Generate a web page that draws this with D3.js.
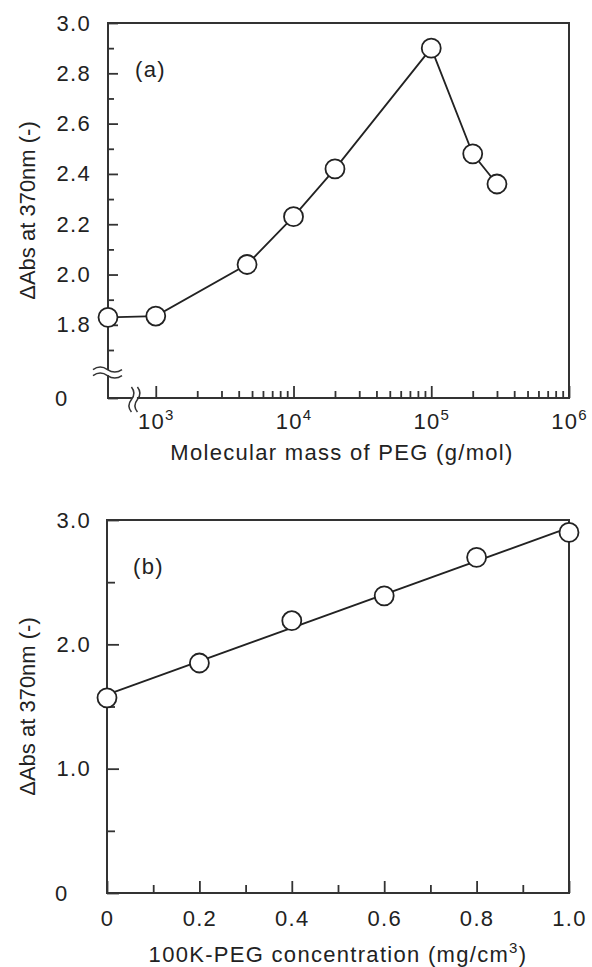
<!DOCTYPE html>
<html>
<head>
<meta charset="utf-8">
<script src="https://cdn.jsdelivr.net/npm/d3@7"></script>
<style>
body { margin: 0; background: #fff; }
svg { display: block; font-family: "Liberation Sans", Arial, sans-serif; }
</style>
</head>
<body>
<div id="chart"></div>
<script>
const width = 592
const height = 967

// (a) dAbs vs molecular mass of PEG
const pegMass = [450, 1000, 4600, 10000, 20000, 100000, 200000, 300000]
const pegAbs = [1.83, 1.835, 2.04, 2.23, 2.42, 2.90, 2.48, 2.36]
const massTicks = [1e3, 1e4, 1e5, 1e6]
const absTicksA = [0, 1.8, 2.0, 2.2, 2.4, 2.6, 2.8, 3.0]

// (b) dAbs vs 100K-PEG concentration
const pegConc = [0, 0.2, 0.4, 0.6, 0.8, 1.0]
const concAbs = [1.57, 1.85, 2.19, 2.39, 2.70, 2.90]
const concTicks = [0, 0.2, 0.4, 0.6, 0.8, 1.0]
const absTicksB = [0, 1.0, 2.0, 3.0]

const ink = "#333"
const fs = 22
const ls = 1.3 // the scan is a bit wide, letter-spacing makes up for it

const svg = d3.select("#chart")
    .append("svg")
    .attr("width", width)
    .attr("height", height)

function styleTicks(g) {
    g.selectAll(".tick line").attr("stroke", ink).attr("stroke-width", 1.8)
    g.selectAll(".tick text").attr("fill", "#222").attr("font-size", fs)
        .attr("letter-spacing", ls).attr("font-family", "Liberation Sans, Arial, sans-serif")
}

// ---------- panel (a) ----------
const a = { left: 108, right: 569, top: 23, bottom: 398 }
const xA = d3.scaleLog().domain([450, 1e6]).range([a.left, a.right])
// axis is broken between 0 and 1.7, so squeeze that part
const yA = d3.scaleLinear().domain([0, 1.7, 3.0]).range([a.bottom, 350, a.top])

const minorMass = []
for (let k = 3; k < 6; k++) {
    for (let m = 2; m < 10; m++) minorMass.push(m * Math.pow(10, k))
}
const minorAbsA = d3.range(1.7, 3.0, 0.2)

const gA = svg.append("g")

gA.append("g")
    .attr("transform", "translate(0," + a.bottom + ")")
    .call(d3.axisBottom(xA).tickValues(minorMass).tickSizeInner(-7).tickSizeOuter(0).tickFormat(""))
    .call(g => g.select(".domain").remove())

gA.append("g")
    .attr("transform", "translate(0," + a.bottom + ")")
    .call(d3.axisBottom(xA).tickValues(massTicks).tickSizeInner(-12).tickSizeOuter(0).tickPadding(15).tickFormat(""))
    .call(g => g.select(".domain").remove())
    .call(g => g.selectAll(".tick text").each(function (d) {
        const t = d3.select(this)
        t.append("tspan").text("10")
        t.append("tspan").attr("font-size", 15).attr("dy", -9).text(Math.round(Math.log10(d)))
    }))

gA.append("g")
    .attr("transform", "translate(" + a.left + ",0)")
    .call(d3.axisLeft(yA).tickValues(minorAbsA).tickSizeInner(-6).tickSizeOuter(0).tickFormat(""))
    .call(g => g.select(".domain").remove())

gA.append("g")
    .attr("transform", "translate(" + a.left + ",0)")
    .call(d3.axisLeft(yA).tickValues(absTicksA).tickSizeInner(-10).tickSizeOuter(0).tickPadding(17)
        .tickFormat(d => d === 0 ? "0" : d3.format(".1f")(d)))
    .call(g => g.select(".domain").remove())
    .call(g => g.selectAll(".tick text").filter(d => d === 0)
        .attr("text-anchor", "start").attr("x", 55 - a.left))

styleTicks(gA)

gA.append("rect")
    .attr("x", a.left).attr("y", a.top)
    .attr("width", a.right - a.left).attr("height", a.bottom - a.top)
    .attr("fill", "none").attr("stroke", ink).attr("stroke-width", 2)

// axis breaks
function wave(x0, x1, y) {
    const m = (x0 + x1) / 2
    return "M" + x0 + "," + y + " Q" + ((x0 + m) / 2) + "," + (y - 5) + " " + m + "," + y + " T" + x1 + "," + y
}
const by = yA(0.9)
gA.append("rect").attr("x", a.left - 3).attr("y", by - 2.5).attr("width", 6).attr("height", 5).attr("fill", "#fff")
gA.append("path").attr("d", wave(a.left - 15, a.left + 14, by - 3)).attr("fill", "none").attr("stroke", ink).attr("stroke-width", 1.5)
gA.append("path").attr("d", wave(a.left - 15, a.left + 14, by + 3)).attr("fill", "none").attr("stroke", ink).attr("stroke-width", 1.5)

const bx = xA(700)
gA.append("rect").attr("x", bx - 2.5).attr("y", a.bottom - 3).attr("width", 5).attr("height", 6).attr("fill", "#fff")
gA.append("g")
    .attr("transform", "translate(" + bx + "," + a.bottom + ") rotate(90)")
    .selectAll("path")
    .data([-3, 3])
    .join("path")
    .attr("d", d => wave(-11, 14, d))
    .attr("fill", "none").attr("stroke", ink).attr("stroke-width", 1.5)

gA.append("path")
    .datum(d3.zip(pegMass, pegAbs))
    .attr("fill", "none")
    .attr("stroke", "#222")
    .attr("stroke-width", 1.8)
    .attr("d", d3.line().x(d => xA(d[0])).y(d => yA(d[1])))

gA.selectAll("circle")
    .data(d3.zip(pegMass, pegAbs))
    .join("circle")
    .attr("cx", d => xA(d[0]))
    .attr("cy", d => yA(d[1]))
    .attr("r", 9.5)
    .attr("fill", "#fff")
    .attr("stroke", "#222")
    .attr("stroke-width", 1.8)

gA.append("text").attr("x", 135).attr("y", 77).attr("font-size", fs).attr("letter-spacing", ls).attr("fill", "#222").text("(a)")
gA.append("text")
    .attr("transform", "translate(35," + ((a.top + a.bottom) / 2) + ") rotate(-90)")
    .attr("text-anchor", "middle").attr("font-size", fs).attr("fill", "#222")
    .text("\u0394Abs at 370nm (-)")
gA.append("text")
    .attr("x", 342).attr("y", 460)
    .attr("text-anchor", "middle").attr("font-size", fs).attr("letter-spacing", ls).attr("fill", "#222")
    .text("Molecular mass of PEG (g/mol)")

// ---------- panel (b) ----------
const b = { left: 107, right: 569, top: 520, bottom: 893 }
const xB = d3.scaleLinear().domain([0, 1]).range([b.left, b.right])
const yB = d3.scaleLinear().domain([0, 3]).range([b.bottom, b.top])

const gB = svg.append("g")

gB.append("g")
    .attr("transform", "translate(0," + b.bottom + ")")
    .call(d3.axisBottom(xB).tickValues(d3.range(0.1, 1, 0.2)).tickSizeInner(-8).tickSizeOuter(0).tickFormat(""))
    .call(g => g.select(".domain").remove())

gB.append("g")
    .attr("transform", "translate(0," + b.bottom + ")")
    .call(d3.axisBottom(xB).tickValues(concTicks).tickSizeInner(-12).tickSizeOuter(0).tickPadding(17)
        .tickFormat(d => d === 0 ? "0" : d3.format(".1f")(d)))
    .call(g => g.select(".domain").remove())

gB.append("g")
    .attr("transform", "translate(" + b.left + ",0)")
    .call(d3.axisLeft(yB).tickValues([0.5, 1.5, 2.5]).tickSizeInner(-8).tickSizeOuter(0).tickFormat(""))
    .call(g => g.select(".domain").remove())

gB.append("g")
    .attr("transform", "translate(" + b.left + ",0)")
    .call(d3.axisLeft(yB).tickValues(absTicksB).tickSizeInner(-12).tickSizeOuter(0).tickPadding(16)
        .tickFormat(d => d === 0 ? "0" : d3.format(".1f")(d)))
    .call(g => g.select(".domain").remove())
    .call(g => g.selectAll(".tick text").filter(d => d === 0)
        .attr("text-anchor", "start").attr("x", 55 - b.left))

styleTicks(gB)

gB.append("rect")
    .attr("x", b.left).attr("y", b.top)
    .attr("width", b.right - b.left).attr("height", b.bottom - b.top)
    .attr("fill", "none").attr("stroke", ink).attr("stroke-width", 2)

// least-squares line through the points
const mx = d3.mean(pegConc), my = d3.mean(concAbs)
const slope = d3.sum(pegConc, (x, i) => (x - mx) * (concAbs[i] - my)) / d3.sum(pegConc, x => (x - mx) * (x - mx))
const icpt = my - slope * mx
const fit = [0, 1].map(x => [x, icpt + slope * x])

gB.append("path")
    .datum(fit)
    .attr("fill", "none")
    .attr("stroke", "#222")
    .attr("stroke-width", 1.8)
    .attr("d", d3.line().x(d => xB(d[0])).y(d => yB(d[1])))

gB.selectAll("circle")
    .data(d3.zip(pegConc, concAbs))
    .join("circle")
    .attr("cx", d => xB(d[0]))
    .attr("cy", d => yB(d[1]))
    .attr("r", 9.5)
    .attr("fill", "#fff")
    .attr("stroke", "#222")
    .attr("stroke-width", 1.8)

gB.append("text").attr("x", 133).attr("y", 574).attr("font-size", fs).attr("letter-spacing", ls).attr("fill", "#222").text("(b)")
gB.append("text")
    .attr("transform", "translate(35," + ((b.top + b.bottom) / 2) + ") rotate(-90)")
    .attr("text-anchor", "middle").attr("font-size", fs).attr("fill", "#222")
    .text("\u0394Abs at 370nm (-)")
const xl = gB.append("text")
    .attr("x", 338).attr("y", 962)
    .attr("text-anchor", "middle").attr("font-size", fs).attr("letter-spacing", ls).attr("fill", "#222")
xl.append("tspan").text("100K-PEG concentration (mg/cm")
xl.append("tspan").attr("font-size", 15).attr("dy", -9).text("3")
xl.append("tspan").attr("dy", 9).text(")")
</script>
</body>
</html>
